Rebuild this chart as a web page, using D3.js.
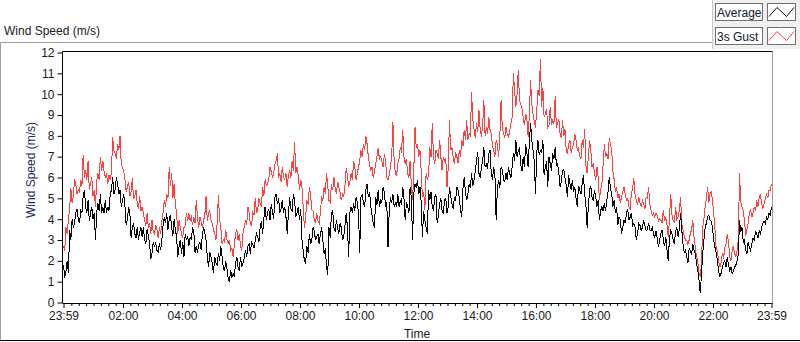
<!DOCTYPE html>
<html lang="en">
<head>
<meta charset="UTF-8">
<title>Wind Speed (m/s)</title>
<script src="https://d3js.org/d3.v7.min.js"></script>
<style>
  body { margin: 0; background: #fff; }
  svg text { font-family: "Liberation Sans", Arial, sans-serif; fill: #1a1a1a; }
</style>
</head>
<body>
<div id="chart"></div>
<script>
// readings every 5 minutes from 23:59, plus the readings halfway between them
const startTime = new Date(2021, 5, 1, 23, 59);
const stepMinutes = 5;

const seriesNames = ["Average", "3s Gust"];

const average = [
  1.8, 1.5, 1.4, 3.0, 3.6, 4.3, 4.0, 4.4, 5.1, 4.6,
  4.9, 4.3, 4.0, 3.0, 4.75, 5.2, 4.6, 4.9, 4.6, 5.2,
  6.0, 5.4, 5.7, 5.4, 4.9, 4.6, 4.0, 4.3, 3.6, 3.3,
  3.6, 3.4, 3.15, 3.0, 3.5, 2.85, 2.35, 2.7, 2.5, 2.85,
  3.0, 4.1, 4.3, 4.0, 3.6, 4.0, 3.15, 2.7, 2.35, 2.2,
  3.0, 2.7, 3.0, 3.45, 2.7, 2.8, 2.5, 3.6, 3.0, 1.7,
  2.2, 1.4, 1.9, 2.35, 2.7, 1.7, 2.0, 1.15, 1.55, 1.4,
  1.9, 1.7, 2.2, 1.9, 2.5, 2.7, 2.35, 2.8, 3.0, 3.15,
  3.6, 3.3, 4.6, 4.3, 3.95, 4.4, 5.05, 4.75, 4.3, 4.9,
  4.6, 3.3, 5.05, 4.4, 4.9, 4.3, 3.95, 3.0, 2.0, 2.7,
  3.3, 3.0, 3.45, 3.15, 2.8, 3.6, 2.35, 1.7, 3.6, 4.3,
  3.6, 3.95, 3.3, 3.6, 3.15, 4.3, 2.2, 4.6, 4.75, 5.05,
  4.3, 5.05, 4.75, 5.4, 5.05, 4.6, 3.8, 5.05, 5.4, 4.9,
  5.55, 4.6, 2.65, 5.05, 5.2, 4.75, 5.2, 4.9, 5.55, 3.95,
  4.6, 5.55, 3.0, 5.7, 5.9, 5.55, 3.15, 3.95, 3.3, 4.9,
  4.6, 5.05, 3.8, 4.75, 4.4, 4.9, 4.3, 5.55, 4.75, 5.05,
  5.55, 5.05, 4.1, 6.0, 4.9, 5.7, 6.2, 5.9, 6.8, 6.2,
  6.5, 7.45, 6.65, 7.15, 6.2, 6.5, 3.95, 5.9, 6.5, 5.9,
  6.2, 6.5, 6.0, 7.15, 7.8, 7.3, 6.65, 7.0, 7.6, 6.5,
  8.6, 7.3, 5.2, 7.8, 7.3, 7.8, 6.5, 5.55, 6.65, 7.15,
  7.45, 6.65, 5.55, 6.35, 6.0, 5.05, 5.7, 5.9, 5.55, 4.6,
  5.4, 5.7, 5.2, 3.6, 5.4, 5.05, 5.4, 4.6, 3.95, 4.6,
  4.75, 4.9, 6.0, 5.2, 4.9, 4.6, 4.1, 3.3, 3.95, 4.3,
  3.95, 4.3, 3.8, 3.0, 3.8, 3.45, 3.95, 3.45, 3.8, 3.45,
  3.3, 3.45, 2.65, 3.3, 3.0, 3.15, 2.0, 3.45, 3.0, 3.45,
  3.15, 4.3, 2.8, 2.5, 1.9, 2.5, 2.8, 2.35, 1.55, 0.45,
  2.35, 3.6, 4.1, 3.95, 3.6, 2.65, 2.0, 1.25, 1.7, 2.0,
  2.2, 1.55, 1.4, 1.7, 2.0, 3.95, 3.6, 3.0, 2.35, 2.65,
  2.8, 3.0, 3.3, 3.45, 3.6, 3.9, 4.1, 4.3, 4.6
];

const averageMid = [
  1.2, 2.0, 3.5, 4.0, 3.8, 4.5, 3.8, 4.3, 5.4, 4.3,
  3.9, 4.6, 4.3, 4.3, 4.4, 4.3, 4.3, 4.3, 4.4, 5.4,
  5.2, 6.0, 5.2, 4.6, 5.2, 3.7, 4.6, 3.1, 3.8, 3.1,
  3.0, 3.6, 3.6, 2.8, 3.2, 2.1, 2.9, 2.85, 2.4, 2.5,
  3.7, 3.8, 3.5, 4.2, 3.2, 3.5, 2.2, 3.0, 2.9, 3.3,
  3.2, 3.15, 3.6, 2.4, 2.4, 2.9, 3.3, 3.35, 2.2, 2.4,
  1.9, 2.2, 1.8, 2.0, 2.2, 1.5, 1.6, 1.0, 1.2, 1.25,
  2.2, 1.5, 1.7, 2.1, 2.2, 2.8, 2.9, 2.6, 3.3, 2.9,
  3.9, 4.0, 3.95, 4.5, 4.7, 4.0, 5.2, 5.0, 4.5, 4.3,
  4.1, 4.3, 4.5, 5.2, 4.1, 4.6, 4.5, 2.5, 1.9, 2.4,
  2.8, 3.6, 3.0, 3.3, 3.3, 3.0, 2.6, 1.3, 3.1, 4.4,
  3.4, 3.6, 3.8, 3.0, 3.7, 3.6, 4.3, 4.3, 4.4, 4.8,
  2.4, 5.2, 4.6, 5.7, 5.3, 4.2, 3.6, 4.7, 4.6, 4.8,
  5.3, 4.8, 4.4, 4.8, 4.6, 4.6, 4.6, 4.7, 5.0, 4.8,
  4.3, 5.0, 5.2, 5.5, 5.2, 4.8, 4.4, 3.6, 5.4, 5.3,
  4.4, 5.2, 4.2, 5.0, 4.3, 5.0, 4.6, 5.1, 4.5, 4.9,
  5.4, 4.4, 5.5, 5.3, 5.2, 5.5, 5.6, 6.3, 7.2, 6.0,
  6.8, 6.5, 6.4, 7.3, 5.9, 6.1, 5.5, 5.5, 6.4, 5.8,
  5.9, 6.2, 6.5, 6.8, 7.0, 7.4, 6.3, 6.5, 7.2, 7.7,
  7.8, 6.8, 7.2, 7.1, 7.2, 6.1, 6.8, 7.0, 6.3, 6.9,
  6.6, 6.2, 5.8, 6.4, 5.6, 6.1, 5.4, 5.3, 5.0, 5.6,
  5.2, 6.1, 4.7, 4.6, 5.6, 4.9, 5.1, 4.9, 4.4, 4.4,
  4.4, 5.3, 5.5, 4.6, 4.3, 3.7, 4.0, 3.6, 3.8, 4.5,
  4.1, 3.7, 3.6, 3.3, 3.7, 3.6, 3.7, 3.5, 3.5, 3.6,
  3.1, 3.1, 3.0, 3.5, 2.7, 2.5, 3.1, 3.3, 2.8, 3.6,
  3.5, 3.5, 2.4, 2.2, 2.6, 2.3, 2.5, 1.9, 1.1, 1.3,
  3.0, 3.8, 4.2, 3.9, 3.0, 2.4, 1.5, 1.4, 1.9, 1.7,
  1.8, 1.7, 1.5, 1.8, 2.3, 3.4, 2.9, 2.5, 2.9, 2.5,
  3.1, 3.4, 3.1, 3.3, 3.8, 3.8, 4.0, 4.2
];

const gust = [
  2.7, 3.6, 4.0, 5.5, 5.1, 5.7, 5.4, 5.9, 7.1, 6.35,
  6.8, 5.7, 5.1, 4.6, 6.2, 7.0, 6.8, 6.0, 5.7, 5.9,
  7.95, 7.15, 7.6, 8.0, 6.5, 5.9, 5.55, 5.1, 5.95, 5.1,
  4.75, 5.1, 4.6, 3.95, 4.3, 3.8, 3.95, 3.3, 3.5, 3.6,
  3.9, 4.9, 5.2, 6.5, 6.2, 5.7, 4.3, 3.95, 3.3, 3.6,
  4.3, 4.3, 4.1, 4.1, 4.9, 3.6, 3.9, 3.95, 5.1, 4.3,
  3.95, 3.5, 3.0, 5.15, 3.6, 3.0, 3.5, 2.85, 2.5, 2.2,
  3.3, 3.0, 2.7, 3.3, 3.95, 4.6, 3.8, 4.3, 5.0, 4.45,
  4.75, 5.55, 5.9, 5.7, 6.5, 6.0, 6.65, 7.15, 6.2, 6.5,
  5.9, 5.55, 6.35, 6.8, 7.7, 6.5, 5.4, 5.55, 3.6, 4.9,
  5.55, 4.45, 3.95, 4.3, 3.8, 5.1, 5.55, 6.2, 4.9, 5.7,
  6.0, 5.2, 5.55, 4.9, 5.1, 6.45, 5.55, 6.2, 6.8, 5.9,
  6.5, 7.3, 7.6, 8.0, 7.0, 6.35, 6.0, 6.65, 7.4, 7.0,
  6.5, 6.8, 5.9, 6.5, 8.65, 6.2, 6.65, 7.45, 8.3, 6.65,
  6.2, 6.8, 4.9, 8.4, 7.6, 7.3, 5.05, 4.45, 5.9, 7.45,
  8.6, 6.65, 7.15, 7.8, 6.35, 6.8, 5.55, 8.75, 7.45, 6.65,
  7.0, 7.3, 7.8, 8.3, 8.75, 8.1, 10.1, 8.3, 8.6, 9.25,
  7.95, 9.7, 8.4, 8.9, 8.1, 7.3, 7.8, 7.0, 9.7, 8.1,
  8.4, 7.95, 8.6, 11.0, 9.4, 11.15, 9.55, 8.9, 9.05, 7.95,
  10.7, 9.05, 8.4, 10.2, 11.7, 10.3, 9.05, 8.4, 9.4, 8.75,
  9.9, 8.6, 8.1, 8.75, 8.3, 7.15, 7.8, 7.45, 8.1, 7.3,
  7.0, 7.8, 8.35, 6.2, 7.8, 6.5, 6.2, 6.5, 4.9, 5.7,
  7.6, 7.15, 7.9, 7.3, 5.9, 5.55, 5.2, 5.05, 5.55, 4.9,
  4.6, 5.2, 5.95, 4.9, 5.05, 4.6, 4.75, 5.05, 5.55, 4.45,
  4.3, 4.3, 3.9, 3.95, 4.45, 4.1, 3.15, 5.2, 3.95, 4.6,
  4.1, 5.05, 3.5, 3.0, 2.8, 3.3, 3.95, 2.65, 2.0, 1.25,
  3.6, 4.6, 5.55, 5.2, 4.9, 3.5, 2.5, 1.7, 2.35, 2.65,
  3.3, 2.2, 2.5, 2.35, 2.5, 6.2, 4.6, 3.95, 3.5, 4.3,
  4.1, 4.6, 4.9, 5.05, 4.75, 4.75, 5.2, 5.4, 5.7
];

const gustMid = [
  2.5, 3.3, 4.5, 4.8, 5.9, 5.2, 5.3, 5.6, 6.0, 5.9,
  5.4, 6.0, 5.4, 5.8, 5.9, 6.3, 6.3, 6.2, 6.1, 6.2,
  7.3, 6.9, 7.3, 6.6, 6.3, 5.3, 5.8, 5.3, 5.0, 5.4,
  4.5, 4.4, 4.3, 3.7, 3.6, 3.3, 3.4, 3.7, 3.1, 3.3,
  4.3, 4.6, 5.0, 5.6, 5.0, 4.7, 3.3, 3.6, 3.1, 3.7,
  3.9, 3.95, 3.7, 3.8, 4.1, 4.1, 3.6, 4.2, 3.9, 4.4,
  3.8, 3.3, 3.8, 4.0, 2.8, 2.9, 3.0, 3.0, 2.6, 2.8,
  3.5, 3.3, 2.5, 3.6, 3.7, 4.3, 3.7, 4.2, 4.3, 5.0,
  4.6, 5.1, 5.6, 5.9, 6.3, 6.2, 6.8, 6.0, 5.8, 6.0,
  6.2, 6.1, 6.0, 6.3, 6.2, 6.1, 5.9, 4.6, 4.1, 4.7,
  5.2, 4.4, 3.8, 3.9, 4.3, 4.9, 5.2, 5.6, 4.8, 5.4,
  5.5, 5.8, 5.3, 5.2, 5.6, 6.1, 5.8, 5.9, 6.5, 6.2,
  6.8, 7.0, 7.3, 7.6, 6.6, 6.5, 6.3, 7.0, 6.9, 6.8,
  7.1, 6.0, 6.1, 7.0, 6.8, 6.1, 6.9, 7.2, 7.0, 6.9,
  6.0, 5.6, 6.4, 7.4, 7.0, 6.3, 5.3, 6.2, 6.1, 7.0,
  7.0, 7.3, 6.9, 7.0, 7.0, 6.9, 6.5, 7.3, 7.0, 7.2,
  6.7, 7.0, 7.5, 7.8, 7.8, 8.0, 8.8, 7.9, 8.2, 8.3,
  8.5, 8.0, 8.1, 8.3, 7.5, 7.0, 7.6, 8.0, 8.4, 7.9,
  8.1, 8.2, 8.9, 10.2, 10.0, 9.7, 9.3, 8.5, 8.8, 9.0,
  9.5, 8.7, 9.2, 9.9, 9.4, 8.9, 9.3, 8.5, 8.5, 8.6,
  8.4, 8.8, 7.9, 8.0, 7.3, 7.6, 7.2, 7.6, 7.8, 7.4,
  6.9, 7.4, 6.6, 7.0, 7.3, 6.7, 5.9, 6.0, 5.4, 6.6,
  7.0, 6.9, 7.6, 6.3, 5.3, 5.0, 4.8, 5.3, 5.2, 5.0,
  4.5, 5.5, 5.2, 4.7, 4.8, 4.9, 4.5, 5.0, 4.7, 4.2,
  4.1, 4.2, 4.0, 3.8, 3.9, 3.7, 4.0, 4.2, 3.8, 4.0,
  4.4, 3.8, 3.2, 3.0, 3.0, 3.5, 3.1, 2.2, 1.4, 1.8,
  4.0, 5.0, 4.8, 5.3, 4.3, 2.6, 2.0, 1.9, 2.1, 2.8,
  2.9, 2.0, 2.7, 2.2, 3.0, 4.8, 4.4, 3.2, 3.8, 4.5,
  4.3, 4.4, 4.6, 5.2, 4.5, 5.0, 5.0, 5.4
];

const yTicks = [0, 1, 2, 3, 4, 5, 6, 7, 8, 9, 10, 11, 12];
const majorTickHours = [2, 4, 6, 8, 10, 12, 14, 16, 18, 20, 22];

const width = 800, height = 342;
const endTime = d3.timeMinute.offset(startTime, 1440);

// merge the 5-minute readings with the halfway readings
function withMidpoints(main, mid) {
  const out = [];
  main.forEach((v, i) => {
    out.push({ t: d3.timeSecond.offset(startTime, i * stepMinutes * 60), v: v });
    if (i < mid.length) {
      out.push({ t: d3.timeSecond.offset(startTime, (i + 0.5) * stepMinutes * 60), v: mid[i] });
    }
  });
  return out;
}
const averageSeries = withMidpoints(average, averageMid);
const gustSeries = withMidpoints(gust, gustMid);

const svg = d3.select("#chart").append("svg")
  .attr("width", width)
  .attr("height", height);

// outer panel frame
svg.append("path")
  .attr("d", "M0.5,341 V42.5 H712")
  .attr("fill", "none").attr("stroke", "#a0a0a0");
svg.append("line")
  .attr("x1", 0).attr("x2", width).attr("y1", 340.5).attr("y2", 340.5)
  .attr("stroke", "#000");

svg.append("text")
  .attr("x", 4).attr("y", 35)
  .style("font-size", "12px")
  .text("Wind Speed (m/s)");

// scales
const x = d3.scaleTime().domain([startTime, endTime]).range([63.5, 771.5]);
const y = d3.scaleLinear().domain([0, 12]).range([302.5, 52.5]);

// plot area frame
svg.append("path")
  .attr("d", "M62.5,303 V51.5 H772.5")
  .attr("fill", "none").attr("stroke", "#000");
svg.append("line")
  .attr("x1", 772.5).attr("x2", 772.5).attr("y1", 51.5).attr("y2", 303)
  .attr("stroke", "#9a9a9a");

// data lines
const line = d3.line()
  .x(d => x(d.t))
  .y(d => y(d.v));

svg.append("path")
  .datum(gustSeries)
  .attr("d", line)
  .attr("fill", "none")
  .attr("stroke", "#ff4040")
  .attr("stroke-width", 1)
  .attr("shape-rendering", "crispEdges");

svg.append("path")
  .datum(averageSeries)
  .attr("d", line)
  .attr("fill", "none")
  .attr("stroke", "#000")
  .attr("stroke-width", 1)
  .attr("shape-rendering", "crispEdges");

// y axis
const yAxis = svg.append("g")
  .attr("transform", "translate(62.5,0)")
  .call(d3.axisLeft(y).tickValues(yTicks).tickSize(5).tickPadding(3));
yAxis.select(".domain").remove();
yAxis.selectAll("text").style("font-size", "12px");

svg.append("text")
  .attr("transform", "translate(35,170) rotate(-90)")
  .attr("text-anchor", "middle")
  .style("font-size", "12px")
  .style("fill", "#1c2a4e")
  .text("Wind Speed (m/s)");

// x axis: minor ticks every 15 minutes, labelled ticks every 2 hours
const majorTicks = [startTime]
  .concat(majorTickHours.map(h => d3.timeHour.offset(d3.timeDay.ceil(startTime), h)))
  .concat([endTime]);
const minorTicks = d3.timeMinute.every(15).range(startTime, endTime)
  .filter(d => d.getMinutes() !== 0 || d.getHours() % 2 !== 0);

const xMinor = svg.append("g")
  .attr("transform", "translate(0,303)")
  .call(d3.axisBottom(x).tickValues(minorTicks).tickSize(3).tickFormat(""));
xMinor.select(".domain").remove();

const xAxis = svg.append("g")
  .attr("transform", "translate(0,303)")
  .call(d3.axisBottom(x).tickValues(majorTicks).tickSize(5).tickPadding(3)
    .tickFormat(d3.timeFormat("%H:%M")));
xAxis.select(".domain").attr("d", "M62.5,0.5 H772.5");
xAxis.selectAll("text").style("font-size", "12px");

svg.append("text")
  .attr("x", 417).attr("y", 338)
  .attr("text-anchor", "middle")
  .style("font-size", "12px")
  .text("Time");

// legend
const legendColors = ["#000", "#ff4040"];
const legend = svg.append("g");
legend.append("rect")
  .attr("x", 712).attr("y", 0).attr("width", 88).attr("height", 49)
  .attr("fill", "#f0f0f0");
legend.append("line")
  .attr("x1", 712.5).attr("x2", 712.5).attr("y1", 0).attr("y2", 49)
  .attr("stroke", "#c8c8c8");

const rows = legend.selectAll("g.row")
  .data(seriesNames)
  .join("g")
  .attr("class", "row")
  .attr("transform", (d, i) => `translate(0,${i * 24})`);

rows.append("rect")
  .attr("x", 715.5).attr("y", 3.5).attr("width", 47).attr("height", 17)
  .attr("fill", "#fff").attr("stroke", "#707070");
rows.append("text")
  .attr("x", 717).attr("y", 17)
  .style("font-size", "12px")
  .style("fill", "#101830")
  .text(d => d);
rows.append("rect")
  .attr("x", 767.5).attr("y", 3.5).attr("width", 28).attr("height", 17)
  .attr("fill", "#fff").attr("stroke", "#707070");
rows.append("path")
  .attr("d", "M769,16.5 L777,7.5 L786.5,16.5 L794,7.5")
  .attr("fill", "none")
  .attr("stroke", (d, i) => legendColors[i]);
</script>
</body>
</html>
